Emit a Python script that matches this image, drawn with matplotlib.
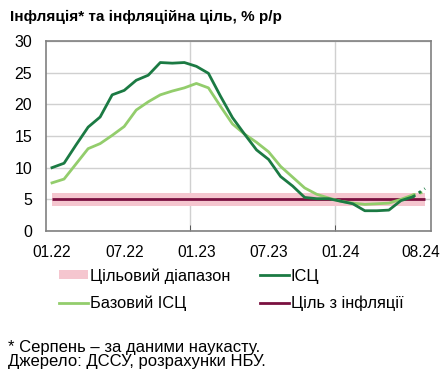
import numpy as np
import matplotlib
matplotlib.use('Agg')
import matplotlib.pyplot as plt
from matplotlib.lines import Line2D
from matplotlib.patches import Patch
from matplotlib.transforms import ScaledTranslation

plt.rcParams['font.family'] = ['Liberation Sans', 'DejaVu Sans']

# місяці 01.22 ... 08.24
months = ['01.22', '02.22', '03.22', '04.22', '05.22', '06.22', '07.22', '08.22', '09.22', '10.22', '11.22', '12.22',
          '01.23', '02.23', '03.23', '04.23', '05.23', '06.23', '07.23', '08.23', '09.23', '10.23', '11.23', '12.23',
          '01.24', '02.24', '03.24', '04.24', '05.24', '06.24', '07.24', '08.24']
tick_labels = ['01.22', '07.22', '01.23', '07.23', '01.24', '08.24']

# ІСЦ, % р/р (серпень 2024 - наукаст)
cpi = [10.0, 10.7, 13.6, 16.4, 18.0, 21.5, 22.2, 23.8, 24.6, 26.6, 26.5, 26.6,
       26.0, 24.9, 21.3, 17.9, 15.3, 12.8, 11.3, 8.6, 7.1, 5.3, 5.1, 5.1,
       4.7, 4.3, 3.2, 3.2, 3.3, 4.8, 5.4, 6.7]
# Базовий ІСЦ
core = [7.6, 8.2, 10.6, 13.0, 13.8, 15.1, 16.5, 19.1, 20.4, 21.5, 22.1, 22.6,
        23.3, 22.6, 19.7, 16.9, 15.3, 14.0, 12.5, 10.2, 8.5, 6.8, 5.8, 5.2,
        4.7, 4.4, 4.2, 4.3, 4.4, 5.0, 5.7, 6.2]
target = 5.0
band_lo, band_hi = 4.0, 6.0

dark_green = '#1b7a43'
light_green = '#93cd6c'
maroon = '#7a1040'
pink = '#f5c6cf'

x = np.arange(len(months))

fig = plt.figure(figsize=(4.43, 3.81), dpi=100)
ax = fig.add_axes([46/443, 1-231/381, 385/443, 190/381])

ax.fill_between([x[0], x[-1]], band_lo, band_hi, color=pink, lw=0, zorder=1)
ax.plot([x[0], x[-1]], [target, target], color=maroon, lw=2.0, zorder=2, solid_capstyle='butt')

# фактичні дані - суцільна лінія, останній місяць - пунктир
ax.plot(x[:-1], core[:-1], color=light_green, lw=2.0, zorder=3)
ax.plot(x[-2:], core[-2:], color=light_green, lw=2.0, ls=(0, (1, 1.5)), zorder=3)
ax.plot(x[:-1], cpi[:-1], color=dark_green, lw=2.0, zorder=4)
ax.plot(x[-2:], cpi[-2:], color=dark_green, lw=2.0, ls=(0, (1, 1.5)), zorder=4)

ax.set_xlim(-0.5, len(months) - 0.5)
ax.set_ylim(0, 30)
ax.set_yticks(np.arange(0, 31, 5))

ax.set_xticks([months.index(t) for t in tick_labels])
ax.set_xticklabels(tick_labels)
ax.set_xticks([11.5, 23.5], minor=True)
ax.tick_params(axis='x', which='major', length=0, pad=10, labelsize=11.2)
ax.tick_params(axis='x', which='minor', length=4, direction='in', color='#404040')
ax.tick_params(axis='y', length=0, pad=10, labelsize=11.5)
# остання мітка трохи лівіше, щоб не обрізалась
last = ax.get_xticklabels()[-1]
last.set_transform(last.get_transform() + ScaledTranslation(-4/100, 0, fig.dpi_scale_trans))

ax.grid(axis='y', which='major', color='#d0d0d0', lw=1)
ax.grid(axis='x', which='minor', color='#d0d0d0', lw=1)
ax.grid(axis='x', which='major', visible=False)
ax.set_axisbelow(True)
for s in ax.spines.values():
    s.set_color('#808080')
    s.set_linewidth(1.2)

fig.text(10/443, 1-17/381, 'Інфляція* та інфляційна ціль, % р/р', fontsize=11, fontweight='bold',
         ha='left', va='center')

handles = [Patch(facecolor=pink, edgecolor='none'),
           Line2D([], [], color=light_green, lw=2),
           Line2D([], [], color=dark_green, lw=2),
           Line2D([], [], color=maroon, lw=2)]
labels = ['Цільовий діапазон', 'Базовий ІСЦ', 'ІСЦ', 'Ціль з інфляції']
fig.legend(handles, labels, ncol=2, loc='upper left', bbox_to_anchor=(59/443, 1-268/381),
           frameon=False, fontsize=11.8, handlelength=1.77, handleheight=0.45, handletextpad=0.12,
           columnspacing=1.8, labelspacing=0.75, borderpad=0, borderaxespad=0)

fig.text(8/443, 1-352/381, '* Серпень – за даними наукасту.', fontsize=12, ha='left', va='baseline')
fig.text(8/443, 1-366/381, 'Джерело: ДССУ, розрахунки НБУ.', fontsize=12, ha='left', va='baseline')

fig.savefig('out.png', dpi=100)
